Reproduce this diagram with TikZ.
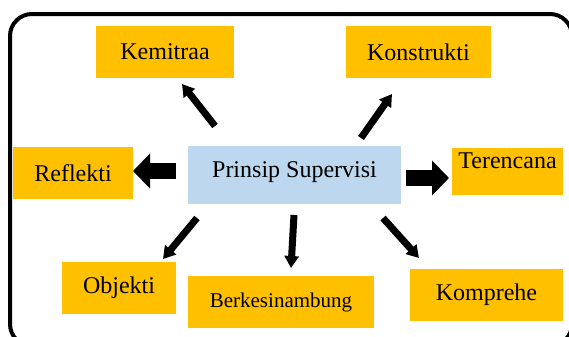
\documentclass[tikz,border=0pt]{standalone}
\usepackage{fontspec}
\setmainfont{Liberation Serif}
\usepackage{xcolor}
\usepackage{tikz}
\usetikzlibrary{arrows.meta,positioning}
\definecolor{boxgold}{RGB}{255, 192, 0}
\definecolor{paleblue}{RGB}{189, 215, 238}

\begin{document}
\begin{tikzpicture}[x=0.5pt, y=-0.5pt,
    goldbox/.style={fill=boxgold, inner sep=0pt, minimum height=26pt,
        font=\fontsize{12}{14}\selectfont},
    slimarrow/.style={line width=3.5pt, -{Triangle[length=6pt, width=7pt]}},
    blockarrow/.style={line width=8pt, -{Triangle[length=8.5pt, width=17pt]}}]
  \useasboundingbox (0,0) rectangle (569,337);
  \draw[line width=2pt, rounded corners=11pt] (10,14) rectangle (572,346);

  \node[fill=paleblue, inner sep=0pt, minimum width=106.5pt, minimum height=29pt,
        text depth=5pt, font=\fontsize{12}{14}\selectfont] (center) at (294.5,175) {Prinsip Supervisi};
  \node[goldbox, minimum width=69pt] (kemitraa) at (165,52) {Kemitraa};
  \node[goldbox, minimum width=72.5pt] (konstrukti) at (418.5,52) {Konstrukti};
  \node[goldbox, minimum width=60pt] (reflekti) at (73,173) {Reflekti};
  \node[goldbox, minimum width=55.5pt, minimum height=23.5pt, text depth=10.5pt] (terencana) at (507.5,171.5) {Terencana};
  \node[goldbox, minimum width=57pt] (objekti) at (119,288) {Objekti};
  \node[goldbox, minimum width=93pt, font=\fontsize{10.5}{12}\selectfont] (berkesinambung) at (281,302) {Berkesinambung};
  \node[goldbox, minimum width=76.5pt] (komprehe) at (486.5,295) {Komprehe};

  % arrow ends
  \coordinate (kem-from) at (215,126);  \coordinate (kem-to) at (182,84);
  \coordinate (kon-from) at (361,138);  \coordinate (kon-to) at (392,94);
  \coordinate (ref-from) at (176,171);  \coordinate (ref-to) at (133,171);
  \coordinate (ter-from) at (406,178);  \coordinate (ter-to) at (449,178);
  \coordinate (obj-from) at (197,218);  \coordinate (obj-to) at (163,259);
  \coordinate (ber-from) at (294,215);  \coordinate (ber-to) at (291,268);
  \coordinate (kom-from) at (383,218);  \coordinate (kom-to) at (419,258);

  \draw[slimarrow] (kem-from) -- (kem-to);
  \draw[slimarrow] (kon-from) -- (kon-to);
  \draw[blockarrow] (ref-from) -- (ref-to);
  \draw[blockarrow] (ter-from) -- (ter-to);
  \draw[slimarrow] (obj-from) -- (obj-to);
  \draw[slimarrow] (ber-from) -- (ber-to);
  \draw[slimarrow] (kom-from) -- (kom-to);
\end{tikzpicture}
\end{document}
